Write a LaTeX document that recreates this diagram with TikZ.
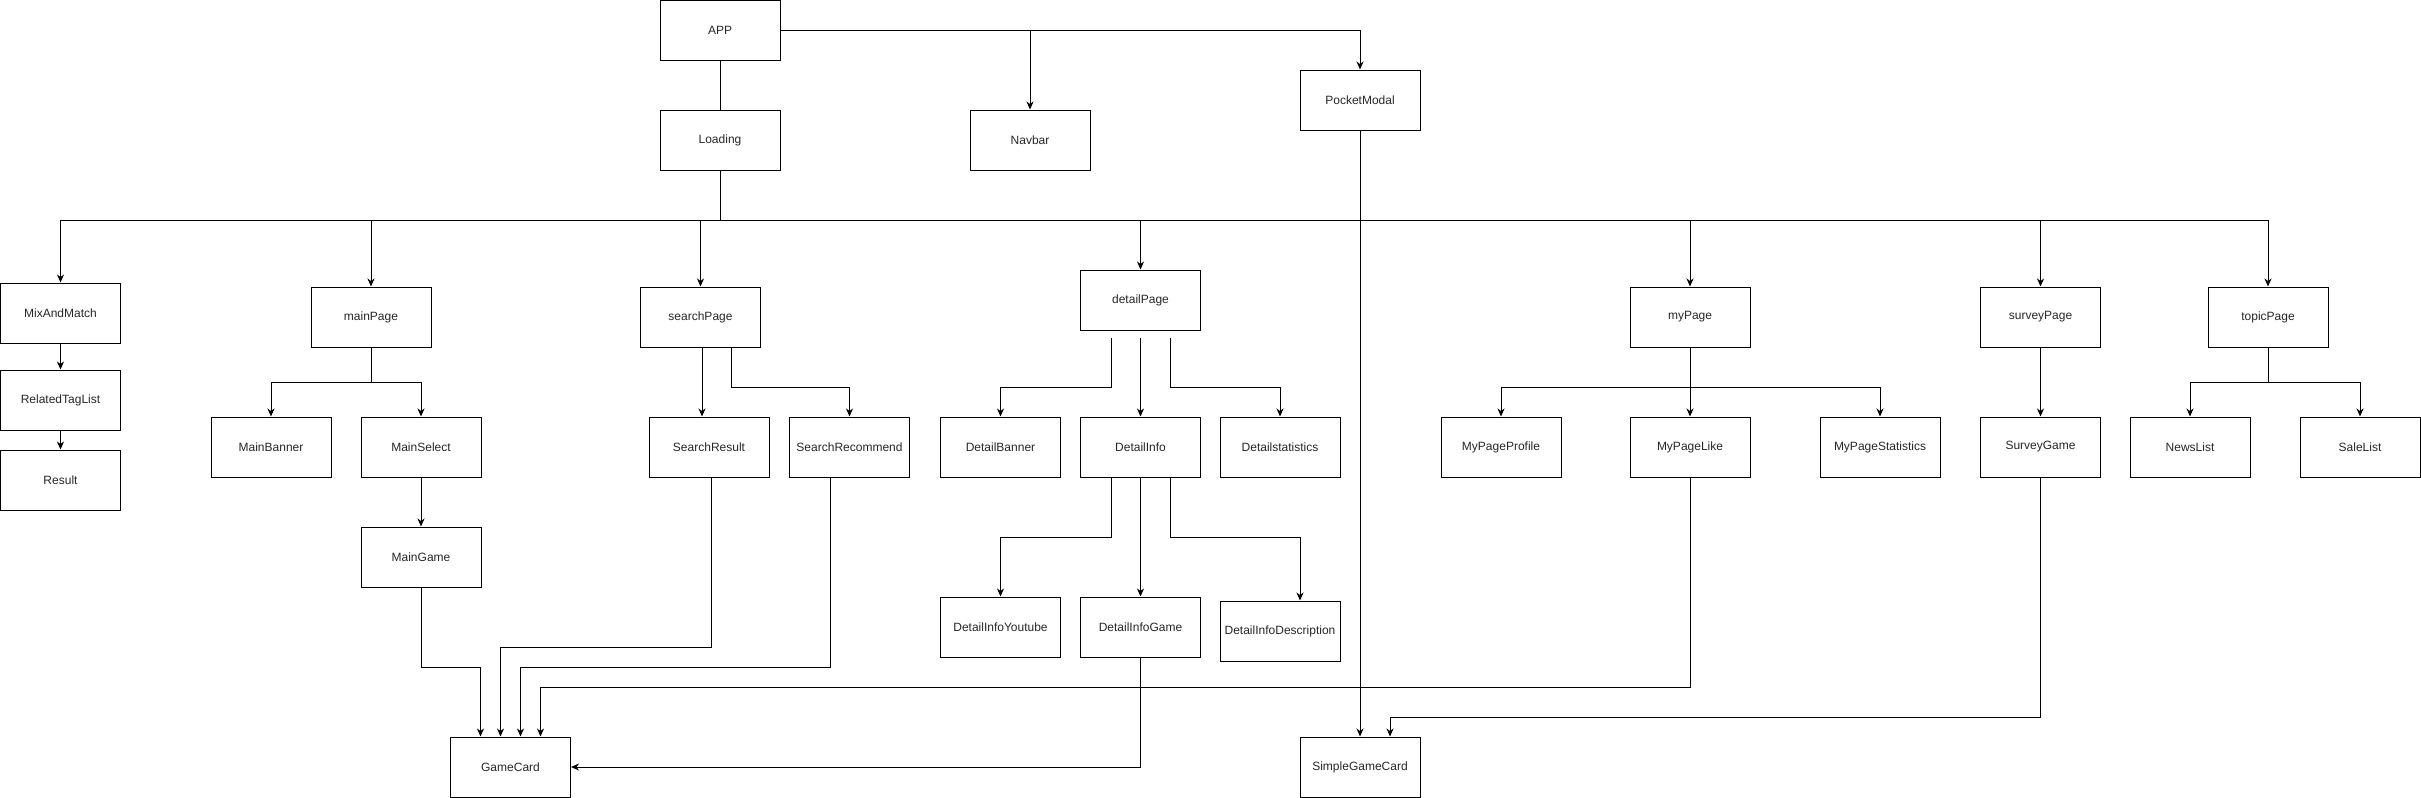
\documentclass[tikz,border=0pt]{standalone}
\usepackage{fontspec}
\setmainfont{Liberation Sans}
\usetikzlibrary{arrows.meta}
\begin{document}
\begin{tikzpicture}[x=1pt,y=-1pt,
  box/.style={draw=black,line width=1pt,minimum width=120pt,minimum height=60pt,inner sep=0pt,font=\fontsize{12}{14}\selectfont,text=black!85},
  ln/.style={line width=1pt},
  arr/.style={line width=1pt,-{Stealth[length=8pt,width=7pt,inset=2.5pt]}}]
\useasboundingbox (0,0) rectangle (2421,798);
% nodes
\node[box] (app) at (720,30) {APP};
\node[box] (loading) at (720,140) {Loading};
\node[box] (navbar) at (1030,140) {Navbar};
\node[box] (pocket) at (1360,100) {PocketModal};
\node[box] (mix) at (60.5,313) {MixAndMatch};
\node[box] (related) at (60.5,400) {RelatedTagList};
\node[box] (result) at (60.5,480) {Result};
\node[box] (mainpage) at (371,317) {mainPage};
\node[box] (mainbanner) at (271,447) {MainBanner};
\node[box] (mainselect) at (421,447) {MainSelect};
\node[box] (maingame) at (421,557) {MainGame};
\node[box] (gamecard) at (510.5,767) {GameCard};
\node[box] (searchpage) at (700.5,317) {searchPage};
\node[box] (searchresult) at (709,447) {SearchResult};
\node[box] (searchrec) at (849.5,447) {SearchRecommend};
\node[box] (detailpage) at (1140.5,300) {detailPage};
\node[box] (detailbanner) at (1000.5,447) {DetailBanner};
\node[box] (detailinfo) at (1140.5,447) {DetailInfo};
\node[box] (detailstat) at (1280,447) {Detailstatistics};
\node[box] (diyoutube) at (1000.5,627) {DetailInfoYoutube};
\node[box] (digame) at (1140.5,627) {DetailInfoGame};
\node[box] (didesc) at (1280,631) {DetailInfoDescription};
\node[box] (mypage) at (1690,317) {myPage};
\node[box] (myprofile) at (1501,447) {MyPageProfile};
\node[box] (mylike) at (1690,447) {MyPageLike};
\node[box] (mystat) at (1880,447) {MyPageStatistics};
\node[box] (surveypage) at (2040.5,317) {surveyPage};
\node[box] (surveygame) at (2040.5,447) {SurveyGame};
\node[box] (topicpage) at (2268,317) {topicPage};
\node[box] (newslist) at (2190,447) {NewsList};
\node[box] (salelist) at (2360,447) {SaleList};
\node[box] (simplecard) at (1360,767) {SimpleGameCard};
% bus coordinates
\coordinate (busL) at (60.5,220);
\coordinate (busR) at (2268,220);
% APP connections
\draw[ln] (app) -- (loading);
\draw[arr] (app.east) -| (pocket.north);
\draw[arr] (app.east -| navbar.north) -- (navbar.north);
% main bus
\draw[ln] (loading.south) -- (loading.south |- busL);
\draw[ln] (busL) -- (busR);
\draw[arr] (busL) -- (mix.north);
\draw[arr] (mainpage.north |- busL) -- (mainpage.north);
\draw[arr] (searchpage.north |- busL) -- (searchpage.north);
\draw[arr] (detailpage.north |- busL) -- (detailpage.north);
\draw[arr] (mypage.north |- busL) -- (mypage.north);
\draw[arr] (surveypage.north |- busL) -- (surveypage.north);
\draw[arr] (busR) -- (topicpage.north);
% MixAndMatch chain
\draw[arr] (mix) -- (related);
\draw[arr] (related) -- (result);
% mainPage
\draw[ln] (mainpage.south) -- ++(0,35) coordinate (mpj);
\draw[arr] (mpj) -| (mainbanner.north);
\draw[arr] (mpj) -| (mainselect.north);
\draw[arr] (mainselect) -- (maingame);
\draw[arr] (maingame.south) -- ++(0,80) -| ([xshift=-30pt]gamecard.north);
% searchPage
\draw[arr] ([xshift=1.5pt]searchpage.south) -- ([xshift=-7pt]searchresult.north);
\draw[arr] ([xshift=30.5pt]searchpage.south) -- ++(0,40) -| (searchrec.north);
\draw[arr] ([xshift=2pt]searchresult.south) -- ++(0,170) -| ([xshift=-10pt]gamecard.north);
\draw[arr] ([xshift=-19.5pt]searchrec.south) -- ++(0,190) -| ([xshift=10pt]gamecard.north);
% detailPage
\coordinate (dpl) at ([xshift=-29.5pt,yshift=-7pt]detailpage.south);
\coordinate (dpm) at ([yshift=-7pt]detailpage.south);
\coordinate (dpr) at ([xshift=29.5pt,yshift=-7pt]detailpage.south);
\draw[arr] (dpl) -- ++(0,50) -| (detailbanner.north);
\draw[arr] (dpm) -- (detailinfo.north);
\draw[arr] (dpr) -- ++(0,50) -| (detailstat.north);
\draw[arr] ([xshift=-29.5pt]detailinfo.south) -- ++(0,60) -| (diyoutube.north);
\draw[arr] (detailinfo) -- (digame);
\draw[arr] ([xshift=29.5pt]detailinfo.south) -- ++(0,60) -| ([xshift=20pt]didesc.north);
\draw[arr] (digame.south) |- (gamecard.east);
% myPage
\draw[arr] (mypage) -- (mylike);
\draw[ln] (mypage.south) -- ++(0,40) coordinate (myj);
\draw[arr] (myj) -| (myprofile.north);
\draw[arr] (myj) -| (mystat.north);
\draw[arr] (mylike.south) -- ++(0,210) -| ([xshift=30pt]gamecard.north);
% surveyPage
\draw[arr] (surveypage) -- (surveygame);
\draw[arr] (surveygame.south) -- ++(0,240) -| ([xshift=30pt]simplecard.north);
% topicPage
\draw[ln] (topicpage.south) -- ++(0,35) coordinate (tpj);
\draw[arr] (tpj) -| (newslist.north);
\draw[arr] (tpj) -| (salelist.north);
% PocketModal
\draw[arr] (pocket) -- (simplecard);
\end{tikzpicture}
\end{document}
